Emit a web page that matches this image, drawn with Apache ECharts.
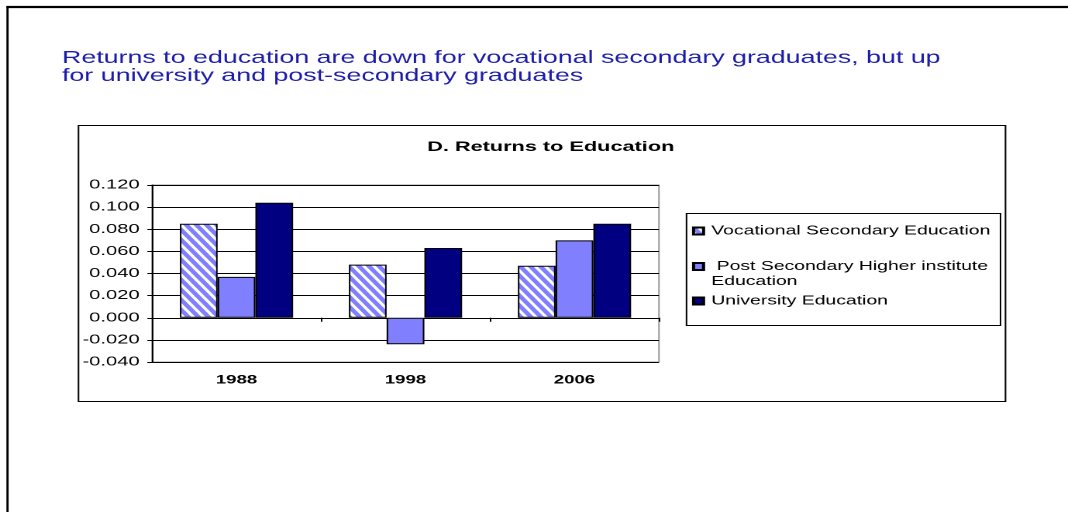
<!DOCTYPE html>
<html>
<head>
<meta charset="utf-8">
<script src="https://cdn.jsdelivr.net/npm/echarts@6/dist/echarts.min.js"></script>
<style>
html,body{margin:0;padding:0;background:#fff;overflow:hidden;}
#chart{height:512px;transform-origin:0 0;}
</style>
</head>
<body>
<div id="chart"></div>
<script>
const categories = ['1988', '1998', '2006'];
const vocationalSecondary = [0.085, 0.048, 0.047];
const postSecondaryHigher = [0.037, -0.024, 0.070];
const university = [0.104, 0.063, 0.085];
const seriesNames = ['Vocational Secondary Education', 'Post Secondary Higher institute Education', 'University Education'];
const legendLabels = ['Vocational Secondary Education', '\n Post Secondary Higher institute\nEducation', 'University Education'];
const yTicks = { min: -0.04, max: 0.12, interval: 0.02 };

// The reference picture is stretched horizontally; render narrower and stretch.
const S = 1.55;
const W = 1068 / S;
const X = v => v / S;
const el = document.getElementById('chart');
el.style.width = W + 'px';
el.style.transform = 'scaleX(' + S + ')';

function stripePattern() {
  const c = document.createElement('canvas');
  const w = 13, h = 20; // drawn at 2x, scaled by the pattern transform
  c.width = w; c.height = h;
  const g = c.getContext('2d');
  g.fillStyle = '#ffffff';
  g.fillRect(0, 0, w, h);
  g.strokeStyle = '#8080ff';
  g.lineWidth = 6.5;
  for (const o of [-1, 0, 1]) {
    g.beginPath();
    g.moveTo(o * w - w * 0.1, -h * 0.1);
    g.lineTo(o * w + w * 1.1, h * 1.1);
    g.stroke();
  }
  return c;
}

const chart = echarts.init(el, null, { renderer: 'canvas', devicePixelRatio: 2 });
const font = 'Liberation Sans, Arial, sans-serif';
const option = {
  animation: false,
  backgroundColor: '#ffffff',
  textStyle: { fontFamily: font },
  graphic: [
    { type: 'line', shape: { x1: X(7.5), y1: 6.5, x2: X(7.5), y2: 512 }, style: { stroke: '#000', lineWidth: 2.2 / S } },
    { type: 'line', shape: { x1: X(6.4), y1: 7, x2: W, y2: 7 }, style: { stroke: '#000', lineWidth: 2.2 } },
    { type: 'rect', shape: { x: X(78.5), y: 125.5, width: X(927), height: 276 }, style: { stroke: '#000', lineWidth: 1, fill: null } },
    { type: 'rect', shape: { x: X(686.5), y: 213.5, width: X(314), height: 112 }, style: { stroke: '#000', lineWidth: 1, fill: null } },
    { type: 'text', left: X(62), top: 49, style: { text: 'Returns to education are down for vocational secondary graduates, but up\nfor university and post-secondary graduates', fill: '#1c1caa', font: '17.3px ' + font, lineHeight: 18 } }
  ],
  title: {
    text: 'D. Returns to Education',
    left: X(543), top: 135, textAlign: 'center',
    textStyle: { fontSize: 14, fontWeight: 'bold', color: '#000', fontFamily: font }
  },
  legend: [0, 1, 2].map(i => ({
    data: [seriesNames[i]],
    formatter: () => legendLabels[i],
    left: X(692), top: [223.5, 244, 293.5][i], padding: 0,
    itemWidth: X(10), itemHeight: 7, icon: 'rect',
    textStyle: { fontSize: 12.5, color: '#000', fontFamily: font, lineHeight: 15 }
  })),
  grid: { left: X(152), right: X(1068 - 659), top: 185, bottom: 150, show: true, borderColor: '#999', borderWidth: 1, containLabel: false },
  xAxis: [
    {
      type: 'category', data: categories,
      axisLine: { onZero: true, lineStyle: { color: '#000', width: 1 } },
      axisTick: { show: true, length: 4, lineStyle: { color: '#000' } },
      axisLabel: { show: false }
    },
    {
      type: 'category', data: categories, position: 'bottom', offset: 0,
      axisLine: { show: false }, axisTick: { show: false },
      axisLabel: { margin: 12, fontSize: 12, fontWeight: 'bold', color: '#000', fontFamily: font }
    }
  ],
  yAxis: {
    type: 'value', min: yTicks.min, max: yTicks.max, interval: yTicks.interval,
    axisLine: { show: true, lineStyle: { color: '#000' } },
    axisTick: { show: true, length: 3, lineStyle: { color: '#000' } },
    splitLine: { show: true, lineStyle: { color: '#000', width: 1 } },
    axisLabel: { margin: 8, fontSize: 13, color: '#000', fontFamily: font, formatter: v => v.toFixed(3) }
  },
  series: [
    { name: seriesNames[0], type: 'bar', data: vocationalSecondary, barGap: '0%', barCategoryGap: '33%',
      itemStyle: { color: { image: stripePattern(), repeat: 'repeat', scaleX: 0.5, scaleY: 0.5 }, borderColor: '#000', borderWidth: 1 } },
    { name: seriesNames[1], type: 'bar', data: postSecondaryHigher, barGap: '0%', barCategoryGap: '33%',
      itemStyle: { color: '#8080ff', borderColor: '#000', borderWidth: 1 } },
    { name: seriesNames[2], type: 'bar', data: university, barGap: '0%', barCategoryGap: '33%',
      itemStyle: { color: '#000080', borderColor: '#000', borderWidth: 1 } }
  ]
};
chart.setOption(option);
</script>
</body>
</html>
